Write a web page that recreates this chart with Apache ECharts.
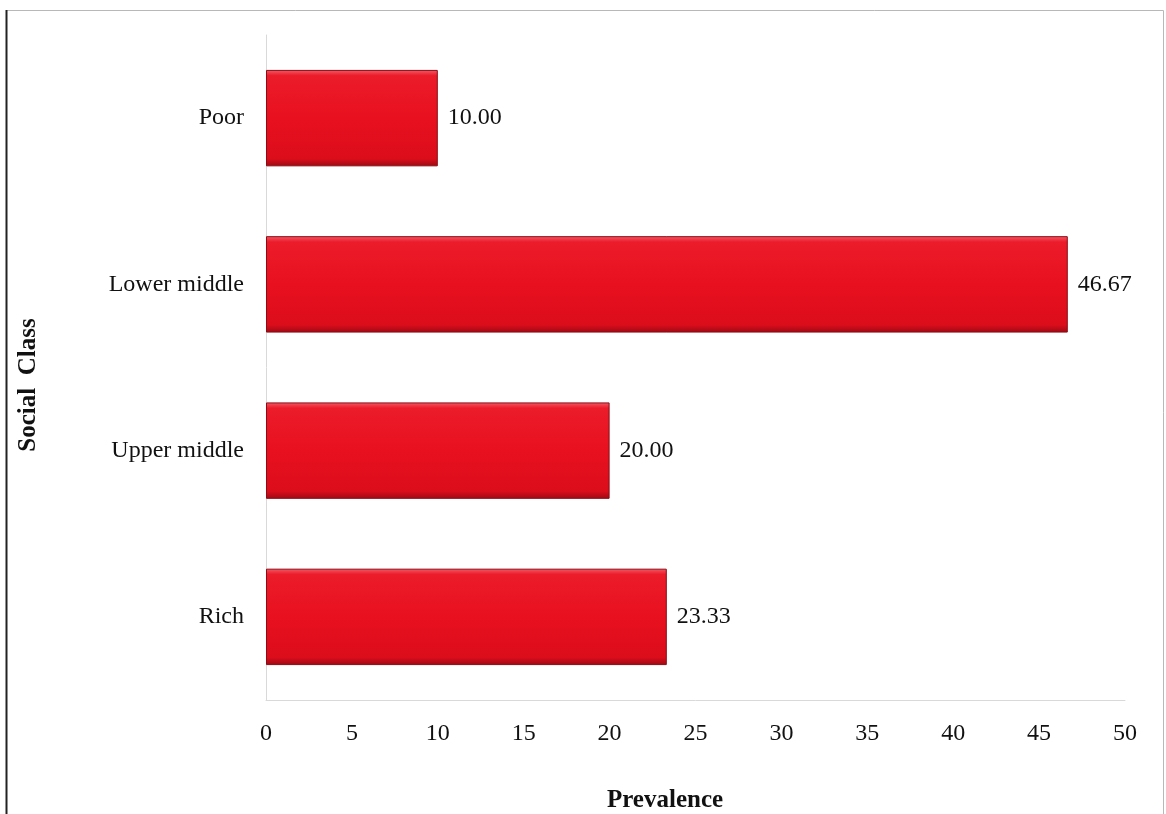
<!DOCTYPE html>
<html>
<head>
<meta charset="utf-8">
<style>
  html, body { margin: 0; padding: 0; background: #ffffff; }
  #chart { width: 1166px; height: 814px; }
</style>
<script src="https://cdn.jsdelivr.net/npm/echarts@6/dist/echarts.min.js"></script>
</head>
<body>
<div id="chart"></div>
<script>
// Prevalence by social class
const categories = ['Rich', 'Upper middle', 'Lower middle', 'Poor'];
const prevalence = [23.33, 20.00, 46.67, 10.00];
const xTicks = [0, 5, 10, 15, 20, 25, 30, 35, 40, 45, 50];

const serif = '"Liberation Serif", "Times New Roman", serif';

const chart = echarts.init(document.getElementById('chart'), null, { renderer: 'canvas' });

chart.setOption({
  backgroundColor: '#ffffff',
  animation: false,
  grid: { left: 266, right: 41, top: 35, bottom: 114, containLabel: false },
  xAxis: {
    type: 'value',
    min: xTicks[0],
    max: xTicks[xTicks.length - 1],
    interval: 5,
    axisLine: { show: true, lineStyle: { color: '#d9d9d9', width: 1 } },
    axisTick: { show: false },
    splitLine: { show: false },
    axisLabel: {
      margin: 22,
      fontFamily: serif,
      fontSize: 24,
      color: '#111111'
    }
  },
  yAxis: {
    type: 'category',
    data: categories,
    axisLine: { show: true, lineStyle: { color: '#d9d9d9', width: 1 } },
    axisTick: { show: false },
    splitLine: { show: false },
    axisLabel: {
      margin: 22,
      fontFamily: serif,
      fontSize: 24,
      color: '#111111'
    }
  },
  series: [{
    type: 'bar',
    data: prevalence,
    barCategoryGap: '42%',
    itemStyle: {
      color: {
        type: 'linear', x: 0, y: 0, x2: 0, y2: 1,
        colorStops: [
          { offset: 0, color: '#f45a66' },
          { offset: 0.06, color: '#ec1c2a' },
          { offset: 0.5, color: '#e8101f' },
          { offset: 0.92, color: '#dc0d1b' },
          { offset: 1, color: '#9c0a14' }
        ]
      },
      borderColor: '#8a0c14',
      borderWidth: 1
    },
    label: {
      show: true,
      position: 'right',
      distance: 10,
      fontFamily: serif,
      fontSize: 24,
      color: '#111111',
      formatter: p => p.value.toFixed(2)
    }
  }],
  graphic: [
    {
      type: 'rect',
      shape: { x: 6.5, y: 10.5, width: 1157, height: 830 },
      style: { fill: 'none', stroke: '#b8b8b8', lineWidth: 1 },
      silent: true
    },
    {
      type: 'line',
      shape: { x1: 6.5, y1: 10, x2: 6.5, y2: 814 },
      style: { stroke: '#222222', lineWidth: 2 },
      silent: true
    },
    {
      type: 'text',
      x: 665, y: 801,
      style: {
        text: 'Prevalence',
        font: 'bold 25px ' + serif,
        fill: '#111111',
        align: 'center',
        verticalAlign: 'middle'
      }
    },
    {
      type: 'text',
      x: 29, y: 385,
      rotation: Math.PI / 2,
      style: {
        text: 'Social  Class',
        font: 'bold 25px ' + serif,
        fill: '#111111',
        align: 'center',
        verticalAlign: 'middle'
      }
    }
  ]
});
</script>
</body>
</html>
